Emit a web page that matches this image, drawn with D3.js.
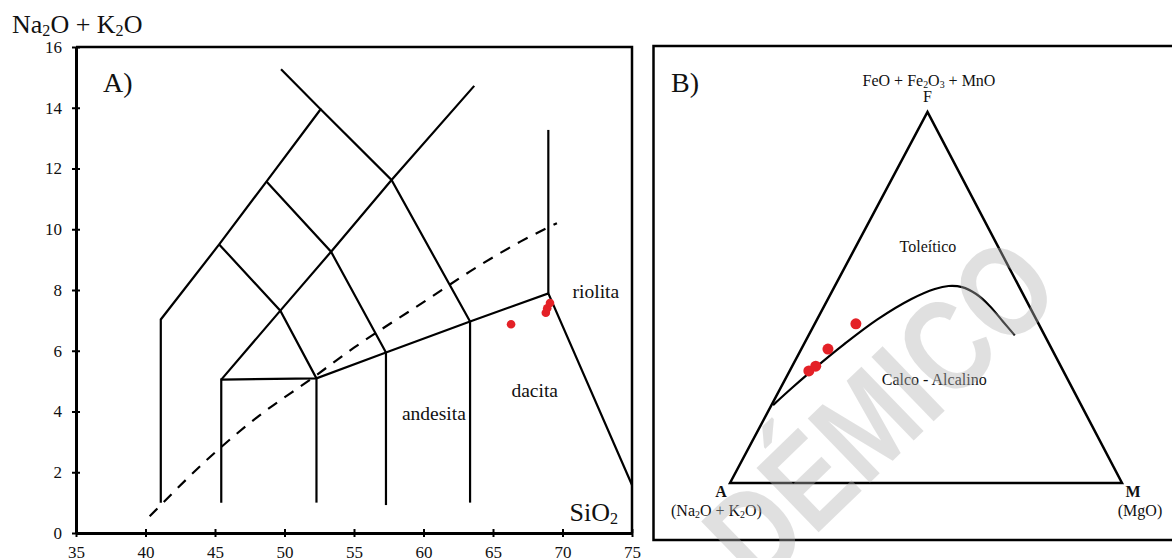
<!DOCTYPE html>
<html>
<head>
<meta charset="UTF-8">
<style>
  body { margin: 0; background: #fff; }
  svg { display: block; background: #fff; }
  .serif { font-family: "Liberation Serif", "Times New Roman", serif; fill: #111; }
  .field { fill: none; stroke: #000; stroke-width: 2.2; }
</style>
</head>
<body>
<svg id="chart" width="1172" height="558"></svg>
<script src="https://d3js.org/d3.v7.min.js"></script>
<script>
// ---------- panel A : TAS (SiO2 vs Na2O + K2O) ----------
const sio2Ticks = [35, 40, 45, 50, 55, 60, 65, 70, 75];
const alkTicks = [0, 2, 4, 6, 8, 10, 12, 14, 16];

// field boundaries, [SiO2, Na2O+K2O]
const tasLines = [
  [[41.1, 1.0], [41.1, 7.03], [45.3, 9.5], [48.7, 11.57], [52.6, 13.95], [49.75, 15.27]],
  [[45.45, 1.0], [45.45, 5.05], [52.3, 5.09], [57.3, 5.94], [63.35, 6.96], [68.98, 7.89], [75, 1.58]],
  [[52.3, 1.0], [52.3, 5.09]],
  [[57.3, 0.92], [57.3, 5.94]],
  [[63.35, 1.0], [63.35, 6.96]],
  [[68.98, 7.89], [68.98, 13.27]],
  [[45.45, 5.05], [49.7, 7.32], [53.35, 9.26], [57.7, 11.62], [63.65, 14.72]],
  [[45.3, 9.5], [49.7, 7.32], [52.3, 5.09]],
  [[48.7, 11.57], [53.35, 9.26], [57.3, 5.94]],
  [[52.6, 13.95], [57.7, 11.62], [63.35, 6.96]]
];
// alkaline / subalkaline divider (dashed)
const tasDivider = [[40.3, 0.55], [45, 2.65], [48, 3.8], [52, 5.1], [55, 6.1], [60, 7.6], [64, 8.8], [67, 9.6], [69.6, 10.2]];
const tasSamples = [[66.3, 6.87], [68.8, 7.25], [68.9, 7.4], [69.1, 7.57]];
const tasNames = ["riolita", "dacita", "andesita"];
const tasNameAt = [[72.4, 7.74], [68.0, 4.48], [60.75, 3.72]];

// ---------- panel B : AFM ternary, [F %, M %] (A = 100 - F - M) ----------
const afmDivider = [[21.0, 0.4], [25.8, 3.0], [31.3, 6.25], [37.3, 10.2], [44.1, 15.4], [49.6, 21.3],
  [52.3, 25.9], [53.1, 29.0], [52.8, 32.6], [51.0, 37.0], [47.8, 42.1], [43.6, 47.6], [39.8, 52.6]];
const afmSamples = [[30.2, 4.9], [31.5, 6.0], [36.1, 6.8], [42.9, 10.5]];
const afmNames = ["Toleítico", "Calco - Alcalino"];
const afmNameAt = [[62.3, 19.1], [26.4, 38.8]];

const W = 1172, H = 558;
const svg = d3.select("#chart");
const serif = '"Liberation Serif", "Times New Roman", serif';
const red = "#e42127";

// text with "_2" style subscripts
function richText(g, str, px, py, size, anchor, weight) {
  const t = g.append("text").attr("class", "serif")
    .attr("x", px).attr("y", py)
    .attr("font-size", size)
    .attr("text-anchor", anchor || "start")
    .attr("font-weight", weight || "normal");
  const shift = size * 0.1;
  let down = false;
  str.split(/(_\d)/).filter(s => s.length).forEach(p => {
    if (p[0] === "_") {
      t.append("tspan").attr("font-size", size * 0.62).attr("dy", down ? 0 : shift).text(p.slice(1));
      down = true;
    } else {
      t.append("tspan").attr("dy", down ? -shift : 0).text(p);
      down = false;
    }
  });
  return t;
}

// ===== panel A =====
const x = d3.scaleLinear().domain([35, 75]).range([76, 632]);
const y = d3.scaleLinear().domain([0, 16]).range([533, 47]);

const gA = svg.append("g");

const line = d3.line().x(d => x(d[0])).y(d => y(d[1]));

gA.selectAll("path.field")
  .data(tasLines)
  .enter()
  .append("path")
  .attr("class", "field")
  .attr("d", line);

gA.append("path")
  .attr("d", line.curve(d3.curveMonotoneX)(tasDivider))
  .attr("fill", "none")
  .attr("stroke", "#000")
  .attr("stroke-width", 2.2)
  .attr("stroke-dasharray", "11,9");

// frame top + right
gA.append("path")
  .attr("d", `M${x(35)},${y(16)}H${x(75)}V${y(0)}`)
  .attr("fill", "none")
  .attr("stroke", "#000")
  .attr("stroke-width", 2.5);

const gx = gA.append("g")
  .attr("transform", `translate(0,${y(0)})`)
  .call(d3.axisBottom(x).tickValues(sio2Ticks).tickSize(4).tickSizeOuter(0).tickPadding(9));
const gy = gA.append("g")
  .attr("transform", `translate(${x(35)},0)`)
  .call(d3.axisLeft(y).tickValues(alkTicks).tickSize(4).tickSizeOuter(0).tickPadding(10));

[gx, gy].forEach(g => {
  g.attr("font-family", serif).attr("font-size", 17);
  g.select(".domain").attr("stroke-width", 3);
  g.selectAll(".tick line").attr("stroke-width", 2);
  g.selectAll(".tick text").attr("fill", "#111");
});
gx.selectAll(".tick line").attr("y1", -4);
gy.selectAll(".tick line").attr("x1", 4);

gA.selectAll("circle")
  .data(tasSamples)
  .enter()
  .append("circle")
  .attr("cx", d => x(d[0]))
  .attr("cy", d => y(d[1]))
  .attr("r", 4.3)
  .attr("fill", red);

gA.selectAll("text.rock")
  .data(tasNames)
  .enter()
  .append("text")
  .attr("class", "serif rock")
  .attr("x", (d, i) => x(tasNameAt[i][0]))
  .attr("y", (d, i) => y(tasNameAt[i][1]))
  .attr("text-anchor", "middle")
  .attr("font-size", 19.5)
  .text(d => d);

richText(gA, "Na_2O + K_2O", 12, 33, 26);
richText(gA, "SiO_2", 618, 521, 26, "end");
gA.append("text").attr("class", "serif").attr("x", 103).attr("y", 92).attr("font-size", 28).text("A)");

// ===== panel B =====
const gB = svg.append("g");
gB.append("rect")
  .attr("x", 653.5).attr("y", 46)
  .attr("width", 600).attr("height", 494)
  .attr("fill", "none").attr("stroke", "#000").attr("stroke-width", 2.5);

gB.append("text").attr("class", "serif").attr("x", 671).attr("y", 92).attr("font-size", 28).text("B)");

const vA = [730, 483], vF = [927.5, 112], vM = [1122, 483];
const fy = d3.scaleLinear().domain([0, 100]).range([vA[1], vF[1]]);
const fx = d3.scaleLinear().domain([0, 100]).range([0, vF[0] - vA[0]]);
const mx = d3.scaleLinear().domain([0, 100]).range([vA[0], vM[0]]);
const tern = d => [mx(d[1]) + fx(d[0]), fy(d[0])];

gB.append("path")
  .attr("d", d3.line()([vA, vF, vM]) + "Z")
  .attr("fill", "none").attr("stroke", "#000").attr("stroke-width", 2.5)
  .attr("stroke-linejoin", "miter");

gB.append("path")
  .attr("d", d3.line().curve(d3.curveCatmullRom)(afmDivider.map(tern)))
  .attr("fill", "none").attr("stroke", "#000").attr("stroke-width", 2.2);

gB.selectAll("circle")
  .data(afmSamples)
  .enter()
  .append("circle")
  .attr("cx", d => tern(d)[0])
  .attr("cy", d => tern(d)[1])
  .attr("r", 5.5)
  .attr("fill", red);

gB.selectAll("text.series")
  .data(afmNames)
  .enter()
  .append("text")
  .attr("class", "serif series")
  .attr("x", (d, i) => tern(afmNameAt[i])[0])
  .attr("y", (d, i) => tern(afmNameAt[i])[1])
  .attr("text-anchor", "middle")
  .attr("font-size", 16)
  .text(d => d);

richText(gB, "FeO + Fe_2O_3 + MnO", 929, 86, 16, "middle");
gB.append("text").attr("class", "serif").attr("x", 927.5).attr("y", 102).attr("font-size", 16).attr("text-anchor", "middle").text("F");
gB.append("text").attr("class", "serif").attr("x", 721).attr("y", 497).attr("font-size", 16).attr("font-weight", "bold").attr("text-anchor", "middle").text("A");
richText(gB, "(Na_2O + K_2O)", 716.5, 516, 16, "middle");
gB.append("text").attr("class", "serif").attr("x", 1133).attr("y", 497).attr("font-size", 16).attr("font-weight", "bold").attr("text-anchor", "middle").text("M");
gB.append("text").attr("class", "serif").attr("x", 1140).attr("y", 516).attr("font-size", 16).attr("text-anchor", "middle").text("(MgO)");

// watermark
svg.append("text")
  .attr("transform", "translate(880,410) rotate(-44) scale(0.82,1)")
  .attr("text-anchor", "middle")
  .attr("dominant-baseline", "central")
  .attr("font-family", '"Liberation Sans", Arial, sans-serif')
  .attr("font-weight", "bold")
  .attr("font-size", 130)
  .attr("fill", "#b4b4b4")
  .attr("opacity", 0.4)
  .text("DÉMICO");
</script>
</body>
</html>
